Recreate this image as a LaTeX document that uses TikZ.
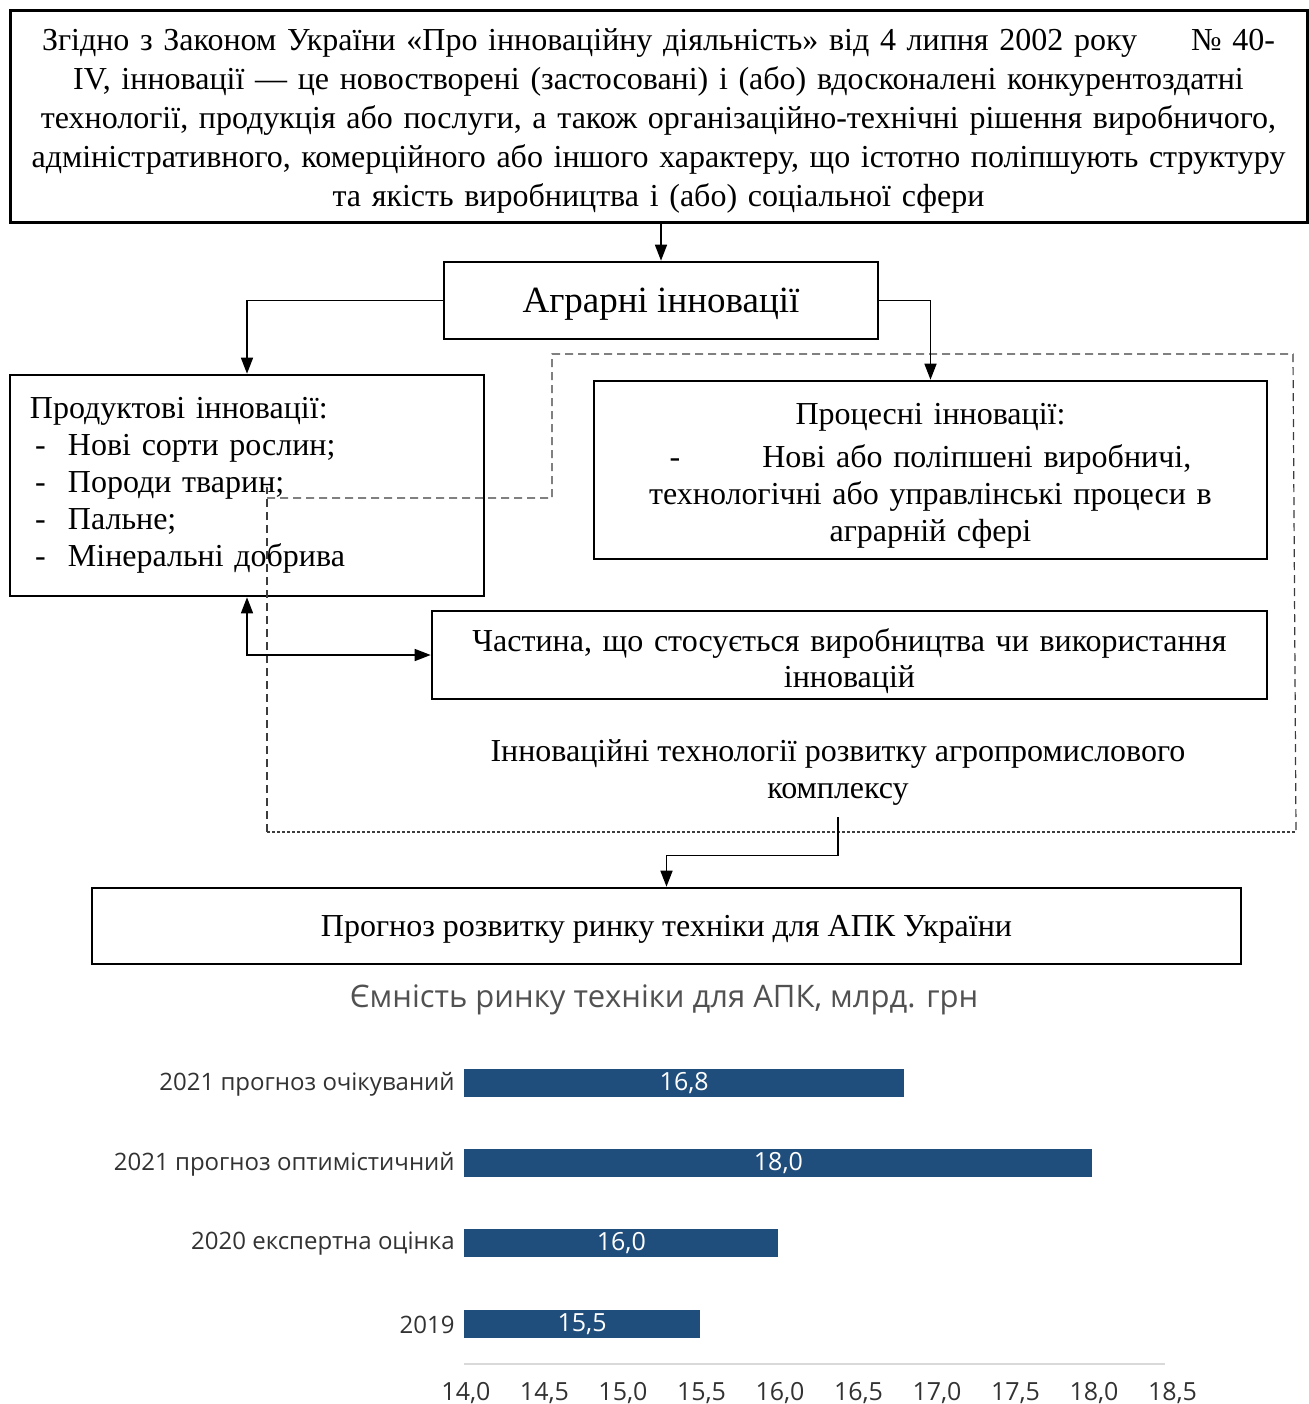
\documentclass[tikz,border=0pt]{standalone}
\usepackage{fontspec}
\setmainfont{Liberation Serif}
\newfontfamily\chartfont{Open Sans}
\definecolor{BarBlue}{RGB}{31,78,125}
\definecolor{ChartText}{RGB}{50,50,50}
\definecolor{DashGray}{RGB}{60,60,60}
\usetikzlibrary{arrows.meta}

\tikzset{
  box/.style={draw, line width=1.3pt, inner sep=0pt, align=center,
    font=\fontsize{16}{18.5}\selectfont},
  link/.style={line width=0.75pt, -{Triangle[length=8pt,width=6pt]}},
  dashline/.style={DashGray, line width=0.6pt, dash pattern=on 4pt off 2.5pt},
  bar/.style={fill=BarBlue, inner sep=0pt, minimum height=14pt, text=white,
    font=\chartfont\fontsize{12.5}{14}\selectfont},
  catlabel/.style={text=ChartText, inner sep=0pt, font=\chartfont\fontsize{12}{14}\selectfont},
}
\newcommand{\topstrut}[1]{\rule{0pt}{#1}}

\begin{document}
\begin{tikzpicture}[x=0.5pt, y=-0.5pt]
\useasboundingbox (0,0) rectangle (1309,1404);
%law
\node[box, line width=1.5pt, minimum width=648.5pt, minimum height=106pt, text width=640pt,
  font=\fontsize{16}{19.5}\selectfont] (law) at (658.5,116)
  {\makebox[616.5pt]{\topstrut{15.5pt}Згідно з Законом України «Про інноваційну діяльність» від 4 липня 2002 року\hfill№ 40-}\\
   IV, інновації — це новостворені (застосовані) і (або) вдосконалені конкурентоздатні\\
   технології, продукція або послуги, а також організаційно-технічні рішення виробничого,\\
   адміністративного, комерційного або іншого характеру, що істотно поліпшують структуру\\
   та якість виробництва і (або) соціальної сфери};
%agrarian
\node[box, minimum width=217pt, minimum height=38.5pt, text depth=0pt, font=\fontsize{18.5}{20}\selectfont]
  (agro) at (661,300.5) {Аграрні інновації};
%product
\node[box, align=left, minimum width=237pt, minimum height=110.5pt, text width=217pt,
  inner xsep=10pt] (prod) at (247,485.5)
  {Продуктові інновації:\\
   \makebox[19pt][l]{\hspace{2.5pt}-}Нові сорти рослин;\\
   \makebox[19pt][l]{\hspace{2.5pt}-}Породи тварин;\\
   \makebox[19pt][l]{\hspace{2.5pt}-}Пальне;\\
   \makebox[19pt][l]{\hspace{2.5pt}-}Мінеральні добрива};
%process
\node[box, minimum width=336.5pt, minimum height=89pt, text width=325pt] (proc) at (930.5,470)
  {\topstrut{16.5pt}Процесні інновації:\\[3pt]
   -\hspace{41pt}Нові або поліпшені виробничі,\\
   технологічні або управлінські процеси в\\
   аграрній сфері};
%part
\node[box, minimum width=417.5pt, minimum height=44pt, text width=410pt, font=\fontsize{16}{18}\selectfont]
  (part) at (849.5,655)
  {\topstrut{18pt}Частина, що стосується виробництва чи використання\\ інновацій};
%dashed region
\draw[dashline] (267,832) -- (267,487);
\draw[dashline] (267,498) -- (552,498) -- (552,354) -- (1293,354) -- (1296,832);
\draw[DashGray, line width=0.6pt, dash pattern=on 1.5pt off 1pt] (267,832) -- (1296,832);
\node[align=center, inner xsep=0pt, inner ysep=6pt, font=\fontsize{16}{18.5}\selectfont]
  (techlabel) at (838,772)
  {Інноваційні технології розвитку агропромислового\\ комплексу};
%forecast
\node[box, minimum width=574.5pt, minimum height=38pt, text depth=0pt] (fc) at (666.5,926)
  {Прогноз розвитку ринку техніки для АПК України};
%links
\draw[link] (agro.north |- law.south) -- (agro.north);
\draw[link] (agro.west) -| (prod.north);
\draw[link] (agro.east) -| (proc.north);
\draw[link, {Triangle[length=8pt,width=6pt]}-{Triangle[length=8pt,width=6pt]}] (prod.south) |- (part.west);
\draw[link] (techlabel.south) -- ++(0,38) -| (fc.north);
%chart
\node[text=ChartText!85, inner sep=0pt, font=\chartfont\fontsize{15.5}{18}\selectfont]
  (charttitle) at (664,1000) {Ємність ринку техніки для АПК, млрд. грн};
\foreach \yy/\val/\txt/\lab [count=\i] in
  {1083/16.8/{16,8}/{2021 прогноз очікуваний},
   1163/18.0/{18,0}/{2021 прогноз оптимістичний},
   1243/16.0/{16,0}/{2020 експертна оцінка},
   1324/15.5/{15,5}/{2019}}
{
  \node[bar, anchor=west, minimum width={(\val-14)*78.5pt}] (bar\i) at (464,\yy) {\txt};
  \node[catlabel, anchor=east] (cat\i) at (455,\yy+1) {\lab};
}
\draw[black!15, line width=1pt] (464,1364) -- (1165,1364);
\foreach \tl [count=\k from 0] in {{14,0},{14,5},{15,0},{15,5},{16,0},{16,5},{17,0},{17,5},{18,0},{18,5}}
  \node[catlabel, font=\chartfont\fontsize{12.5}{14}\selectfont] (tick\k) at (466+\k*78.5,1393) {\tl};
\end{tikzpicture}
\end{document}
